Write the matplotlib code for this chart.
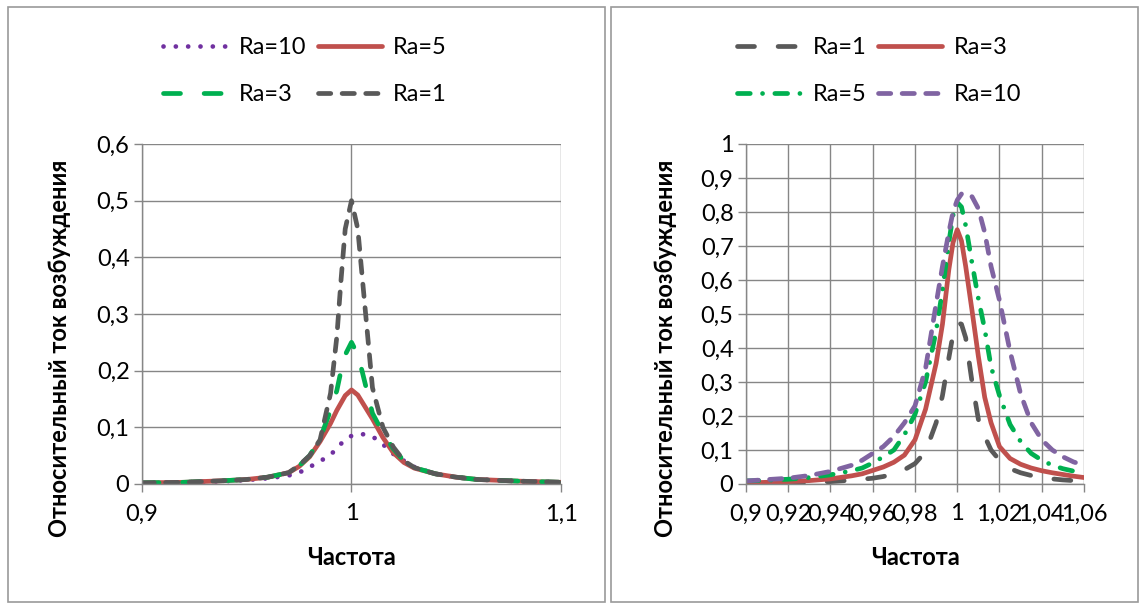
import matplotlib
matplotlib.use("Agg")
import matplotlib.pyplot as plt
from matplotlib.patches import Rectangle

plt.rcParams['font.family'] = ['Lato', 'Open Sans', 'DejaVu Sans']

# left chart: excitation current vs frequency (wide range)
freq_left = [0.90, 0.92, 0.94, 0.95, 0.96, 0.97, 0.975, 0.98, 0.985, 0.99, 0.993,
             0.995, 0.997, 1.0, 1.003, 1.005, 1.007, 1.01, 1.015, 1.02, 1.025,
             1.03, 1.04, 1.05, 1.06, 1.08, 1.10]
left_ra10 = [0.002, 0.003, 0.005, 0.007, 0.010, 0.015, 0.020, 0.030, 0.040, 0.052, 0.062,
             0.071, 0.078, 0.085, 0.088, 0.088, 0.087, 0.084, 0.070, 0.053, 0.041,
             0.030, 0.018, 0.012, 0.008, 0.005, 0.003]
left_ra5 = [0.002, 0.003, 0.006, 0.008, 0.012, 0.020, 0.031, 0.048, 0.075, 0.107, 0.130,
            0.143, 0.156, 0.166, 0.157, 0.145, 0.133, 0.115, 0.082, 0.055, 0.038,
            0.028, 0.018, 0.012, 0.008, 0.005, 0.003]
left_ra3 = [0.002, 0.003, 0.006, 0.008, 0.012, 0.020, 0.032, 0.050, 0.080, 0.130, 0.165,
            0.200, 0.228, 0.250, 0.228, 0.200, 0.170, 0.125, 0.090, 0.062, 0.041,
            0.029, 0.018, 0.012, 0.008, 0.005, 0.003]
left_ra1 = [0.002, 0.003, 0.006, 0.008, 0.012, 0.020, 0.033, 0.050, 0.078, 0.160, 0.260,
            0.360, 0.450, 0.500, 0.450, 0.370, 0.290, 0.170, 0.100, 0.065, 0.041,
            0.029, 0.018, 0.012, 0.008, 0.005, 0.003]

# right chart: narrow range
freq_right = [0.90, 0.91, 0.92, 0.93, 0.94, 0.95, 0.955, 0.96, 0.965, 0.97, 0.975,
              0.98, 0.985, 0.99, 0.993, 0.996, 0.998, 1.0, 1.002, 1.004, 1.007,
              1.01, 1.013, 1.016, 1.02, 1.025, 1.03, 1.035, 1.04, 1.045, 1.05,
              1.055, 1.06]
right_ra1 = [0.001, 0.002, 0.003, 0.005, 0.007, 0.011, 0.014, 0.017, 0.022, 0.030, 0.042,
             0.060, 0.095, 0.180, 0.260, 0.370, 0.440, 0.475, 0.470, 0.430, 0.300,
             0.190, 0.140, 0.100, 0.070, 0.045, 0.033, 0.025, 0.019, 0.015, 0.012,
             0.010, 0.008]
right_ra3 = [0.003, 0.005, 0.007, 0.010, 0.015, 0.024, 0.030, 0.040, 0.050, 0.064, 0.085,
             0.130, 0.220, 0.355, 0.470, 0.630, 0.710, 0.748, 0.715, 0.640, 0.510,
             0.375, 0.255, 0.180, 0.110, 0.075, 0.058, 0.047, 0.039, 0.033, 0.028,
             0.023, 0.019]
right_ra5 = [0.009, 0.011, 0.014, 0.019, 0.027, 0.039, 0.047, 0.062, 0.080, 0.100, 0.145,
             0.205, 0.300, 0.450, 0.570, 0.710, 0.790, 0.828, 0.815, 0.760, 0.650,
             0.545, 0.455, 0.345, 0.260, 0.175, 0.125, 0.090, 0.070, 0.055, 0.045,
             0.038, 0.032]
right_ra10 = [0.009, 0.013, 0.017, 0.025, 0.037, 0.055, 0.070, 0.090, 0.110, 0.140, 0.180,
              0.230, 0.340, 0.530, 0.640, 0.740, 0.800, 0.835, 0.853, 0.855, 0.845,
              0.810, 0.740, 0.640, 0.540, 0.390, 0.265, 0.180, 0.130, 0.100, 0.080,
              0.065, 0.055]

GRAY = '#595959'
RED = '#C0504D'
GREEN = '#00B050'
PURPLE = '#7030A0'
LAVENDER = '#8064A2'
GRID = '#868686'
LW = 3.4
FS = 17

fig = plt.figure(figsize=(11.43, 6.06), dpi=100)

# panel frames
for x0, x1 in [(8, 605), (611, 1138)]:
    fig.add_artist(Rectangle((x0 / 1143, 4 / 606), (x1 - x0) / 1143, 595 / 606,
                             transform=fig.transFigure, fill=False,
                             ec='#9a9a9a', lw=1.2))

ax1 = fig.add_axes([142 / 1143, 1 - 484 / 606, 419 / 1143, 340 / 606])
ax2 = fig.add_axes([746 / 1143, 1 - 484 / 606, 338 / 1143, 340 / 606])


def line(ax, x, y, color, dashes, label):
    l, = ax.plot(x, y, color=color, lw=LW, label=label,
                 solid_capstyle='round', dash_capstyle='round')
    if dashes is not None:
        l.set_dashes(dashes)
    return l


h10 = line(ax1, freq_left, left_ra10, PURPLE, (0.01, 2.6), 'Ra=10')
h5 = line(ax1, freq_left, left_ra5, RED, None, 'Ra=5')
h3 = line(ax1, freq_left, left_ra3, GREEN, (3.6, 5.0), 'Ra=3')
h1 = line(ax1, freq_left, left_ra1, GRAY, (2.6, 2.4), 'Ra=1')

g1 = line(ax2, freq_right, right_ra1, GRAY, (3.6, 5.0), 'Ra=1')
g3 = line(ax2, freq_right, right_ra3, RED, None, 'Ra=3')
g5 = line(ax2, freq_right, right_ra5, GREEN, (2.7, 2.6, 0.01, 2.6), 'Ra=5')
g10 = line(ax2, freq_right, right_ra10, LAVENDER, (2.6, 2.4), 'Ra=10')


def style(ax, xlim, xticks, xlabels, ylim, yticks, ylabels):
    ax.set_xlim(*xlim)
    ax.set_ylim(*ylim)
    ax.set_xticks(xticks)
    ax.set_xticklabels(xlabels)
    ax.set_yticks(yticks)
    ax.set_yticklabels(ylabels)
    ax.grid(True, color=GRID, lw=1.0)
    ax.set_axisbelow(True)
    for s in ['top', 'right']:
        ax.spines[s].set_visible(False)
    for s in ['left', 'bottom']:
        ax.spines[s].set_color(GRID)
        ax.spines[s].set_linewidth(1.0)
    ax.tick_params(axis='both', colors=GRID, labelcolor='black',
                   labelsize=FS, length=6, width=1.0)
    ax.tick_params(axis='y', pad=3)
    ax.tick_params(axis='x', pad=8)
    ax.set_xlabel('Частота', fontsize=FS, fontweight='bold', va='center')
    ax.set_ylabel('Относительный ток возбуждения', fontsize=FS,
                  fontweight='bold', va='center')
    ax.set_facecolor('none')


style(ax1, (0.9, 1.1), [0.9, 1.0, 1.1], ['0,9', '1', '1,1'],
      (0, 0.6), [i / 10 for i in range(7)],
      ['0', '0,1', '0,2', '0,3', '0,4', '0,5', '0,6'])
ax1.xaxis.set_label_coords(0.5, -0.215)
ax1.yaxis.set_label_coords(-0.196, 0.40)

xt2 = [0.90, 0.92, 0.94, 0.96, 0.98, 1.0, 1.02, 1.04, 1.06]
style(ax2, (0.9, 1.06), xt2,
      ['0,9', '0,92', '0,94', '0,96', '0,98', '1', '1,02', '1,04', '1,06'],
      (0, 1), [i / 10 for i in range(11)],
      ['0', '0,1', '0,2', '0,3', '0,4', '0,5', '0,6', '0,7', '0,8', '0,9', '1'])
ax2.xaxis.set_label_coords(0.5, -0.215)
ax2.yaxis.set_label_coords(-0.239, 0.40)

leg_kw = dict(ncol=2, frameon=False, fontsize=FS, handlelength=2.7,
              handletextpad=0.5, columnspacing=0.5, labelspacing=1.1,
              loc='center', bbox_transform=fig.transFigure)
fig.legend([h10, h3, h5, h1], ['Ra=10', 'Ra=3', 'Ra=5', 'Ra=1'],
           bbox_to_anchor=(305 / 1143, 1 - 71 / 606), **leg_kw)
fig.legend([g1, g5, g3, g10], ['Ra=1', 'Ra=5', 'Ra=3', 'Ra=10'],
           bbox_to_anchor=(879 / 1143, 1 - 71 / 606), **leg_kw)

fig.savefig('out.png', dpi=100)
